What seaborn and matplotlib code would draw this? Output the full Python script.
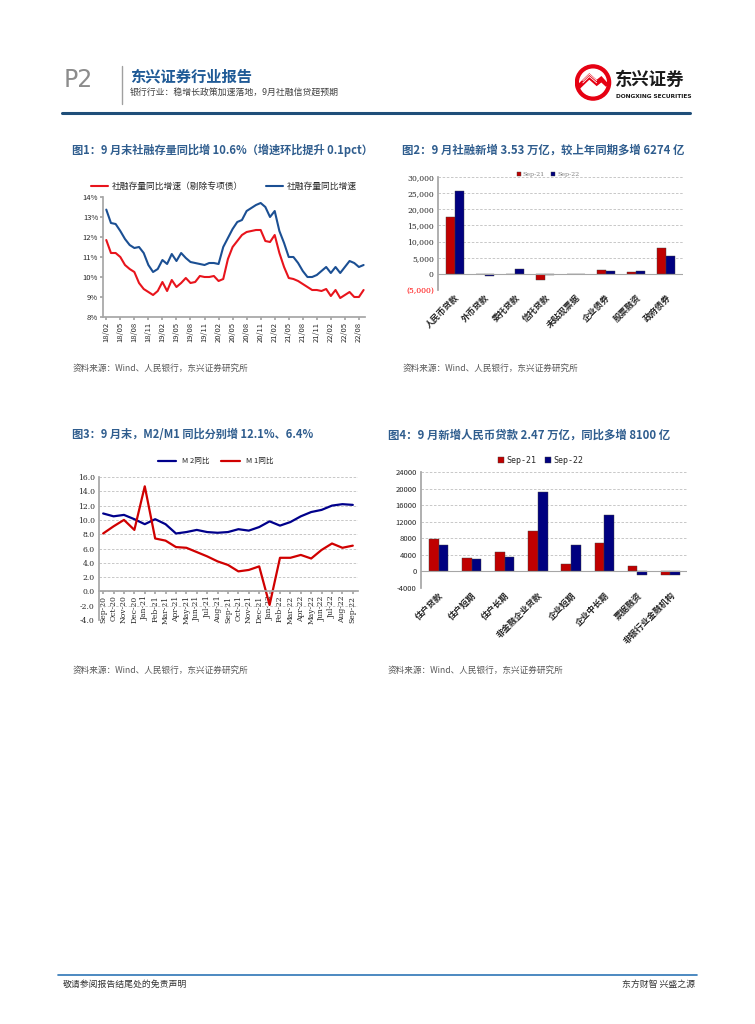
import numpy as np
import pandas as pd
import matplotlib
matplotlib.use("Agg")
import matplotlib.pyplot as plt
import seaborn as sns
from matplotlib.patches import Circle, Polygon
from matplotlib.lines import Line2D

sns.set_theme(style="white")
plt.rcParams['font.family'] = ['Noto Sans CJK SC', 'DejaVu Sans']
plt.rcParams['axes.unicode_minus'] = False

# ---------- data ----------
# chart 1: monthly 2018/02 - 2022/09
tsf_months = pd.period_range("2018-02", "2022-09", freq="M")
tsf_total = [13.37, 12.70, 12.65, 12.30, 11.90, 11.60, 11.45, 11.50, 11.20, 10.60, 10.25,
             10.40, 10.85, 10.65, 11.15, 10.80, 11.20, 10.95, 10.75, 10.70, 10.65, 10.60, 10.70,
             10.70, 10.65, 11.50, 11.95, 12.40, 12.75, 12.85, 13.30, 13.45, 13.60, 13.70, 13.50,
             13.00, 13.30, 12.30, 11.70, 11.00, 11.00, 10.70, 10.30, 10.00, 10.00, 10.10, 10.30,
             10.50, 10.20, 10.50, 10.20, 10.50, 10.80, 10.70, 10.50, 10.60]
tsf_ex_special = [11.85, 11.20, 11.20, 11.00, 10.60, 10.40, 10.25, 9.70, 9.40, 9.25, 9.10,
                  9.30, 9.75, 9.30, 9.85, 9.50, 9.70, 9.95, 9.70, 9.75, 10.05, 10.00, 10.00,
                  10.05, 9.80, 9.90, 10.90, 11.50, 11.80, 12.10, 12.25, 12.30, 12.35, 12.35, 11.80,
                  11.75, 12.10, 11.20, 10.50, 9.95, 9.90, 9.80, 9.65, 9.50, 9.35, 9.35, 9.30,
                  9.40, 9.05, 9.35, 8.95, 9.10, 9.25, 9.00, 9.00, 9.35]

# chart 2: new TSF components (100m yuan)
tsf_items = ["人民币贷款", "外币贷款", "委托贷款", "信托贷款", "未贴现票据", "企业债券", "股票融资", "政府债券"]
tsf_sep21 = [17600, -110, -160, -2000, -100, 1100, 700, 8000]
tsf_sep22 = [25600, -700, 1600, -350, -130, 750, 1000, 5500]

# chart 3: M2 / M1 yoy
m_months = ["Sep-20", "Oct-20", "Nov-20", "Dec-20", "Jan-21", "Feb-21", "Mar-21", "Apr-21",
            "May-21", "Jun-21", "Jul-21", "Aug-21", "Sep-21", "Oct-21", "Nov-21", "Dec-21",
            "Jan-22", "Feb-22", "Mar-22", "Apr-22", "May-22", "Jun-22", "Jul-22", "Aug-22", "Sep-22"]
m2_yoy = [10.9, 10.5, 10.7, 10.1, 9.4, 10.1, 9.4, 8.1, 8.3, 8.6, 8.3, 8.2, 8.3,
          8.7, 8.5, 9.0, 9.8, 9.2, 9.7, 10.5, 11.1, 11.4, 12.0, 12.2, 12.1]
m1_yoy = [8.1, 9.1, 10.0, 8.6, 14.7, 7.4, 7.1, 6.2, 6.1, 5.5, 4.9, 4.2, 3.7,
          2.8, 3.0, 3.5, -1.9, 4.7, 4.7, 5.1, 4.6, 5.8, 6.7, 6.1, 6.4]

# chart 4: new RMB loans (100m yuan)
loan_items = ["住户贷款", "住户短期", "住户长期", "非金融企业贷款", "企业短期", "企业中长期", "票据融资", "非银行业金融机构"]
loan_sep21 = [7900, 3200, 4700, 9800, 1800, 6900, 1400, -900]
loan_sep22 = [6500, 3000, 3500, 19200, 6500, 13600, -800, -900]

# ---------- page ----------
W, H = 755, 1024
fig = plt.figure(figsize=(W / 100, H / 100), dpi=100)
TITLE_C = "#2F5D8E"


def box(x0, y0, x1, y1):
    return [x0 / W, 1 - y1 / H, (x1 - x0) / W, (y1 - y0) / H]


def ftext(x, y, s, **kw):
    fig.text(x / W, 1 - y / H, s, **kw)


# header
ftext(64, 80, "P2", fontsize=17, color="#8C8C8C", va="center", family="DejaVu Sans")
fig.add_artist(Line2D([122 / W, 122 / W], [1 - 66 / H, 1 - 104 / H], color="#A0A0A0", lw=1))
ftext(130, 77, "东兴证券行业报告", fontsize=11, color="#1F5A96", weight="bold", va="center")
ftext(130, 92, "银行行业：稳增长政策加速落地，9月社融信贷超预期", fontsize=6.4, color="#404040", va="center")
fig.add_artist(Line2D([62 / W, 690 / W], [1 - 113 / H, 1 - 113 / H], color="#1F4E79", lw=2.2))

# logo
lax = fig.add_axes(box(574, 64, 612, 101))
lax.set_xlim(-1, 1)
lax.set_ylim(-1, 1)
lax.set_aspect("equal")
lax.axis("off")
lax.add_patch(Circle((0, 0), 0.95, color="#E60012"))
lax.add_patch(Circle((0, 0), 0.72, color="white"))
lax.add_patch(Polygon([[-0.72, -0.05], [-0.2, 0.45], [0.2, 0.1], [0.45, 0.3], [0.72, 0.0],
                       [0.72, -0.2], [0.45, 0.05], [0.2, -0.15], [-0.2, 0.2], [-0.72, -0.3]],
                      color="#E60012"))
for dy in (0.0, 0.12):
    lax.plot([-0.55, -0.2, 0.2], [-0.02 + dy, 0.32 + dy, -0.02 + dy], color="white", lw=0.6)
ftext(615, 80, "东兴证券", fontsize=12.5, color="#1A1A1A", weight="bold", va="center")
ftext(616, 96, "DONGXING SECURITIES", fontsize=4.2, color="#1A1A1A", weight="bold", va="center",
      family="DejaVu Sans")

# footer
fig.add_artist(Line2D([58 / W, 697 / W], [1 - 975 / H, 1 - 975 / H], color="#2E75B6", lw=1.2))
ftext(63, 984, "敬请参阅报告结尾处的免责声明", fontsize=6.4, color="#333333", va="center")
ftext(695, 984, "东方财智 兴盛之源", fontsize=6.4, color="#333333", va="center", ha="right")

SRC = "资料来源：Wind、人民银行，东兴证券研究所"
ftext(72, 150, "图1：9 月末社融存量同比增 10.6%（增速环比提升 0.1pct）", fontsize=8.05, color=TITLE_C,
      weight="bold", va="center")
ftext(402, 150, "图2：9 月社融新增 3.53 万亿，较上年同期多增 6274 亿", fontsize=8.2, color=TITLE_C,
      weight="bold", va="center")
ftext(72, 435, "图3：9 月末，M2/M1 同比分别增 12.1%、6.4%", fontsize=8.05, color=TITLE_C,
      weight="bold", va="center")
ftext(388, 435, "图4：9 月新增人民币贷款 2.47 万亿，同比多增 8100 亿", fontsize=8.2, color=TITLE_C,
      weight="bold", va="center")
for x, y in [(73, 368), (403, 368), (73, 670), (388, 670)]:
    ftext(x, y, SRC, fontsize=6.2, color="#595959", va="center", style="italic")

# ---------- chart 1 ----------
ax1 = fig.add_axes(box(103, 197, 365, 317))
df1 = pd.DataFrame({"idx": np.arange(len(tsf_ex_special)),
                    "社融存量同比增速（剔除专项债）": tsf_ex_special,
                    "社融存量同比增速": tsf_total})
df1 = df1.melt("idx", var_name="series", value_name="yoy")
sns.lineplot(data=df1, x="idx", y="yoy", hue="series", ax=ax1, lw=1.5,
             palette={"社融存量同比增速（剔除专项债）": "#E8141C", "社融存量同比增速": "#1B4F93"})
ax1.set_xlim(-0.7, len(tsf_ex_special) - 0.7)
ax1.set_ylim(8, 14)
ax1.set_yticks(range(8, 15))
ax1.set_yticklabels([f"{v}%" for v in range(8, 15)])
tick_idx = list(range(0, len(tsf_ex_special), 3))
ax1.set_xticks(tick_idx)
ax1.set_xticklabels([tsf_months[i].strftime("%y/%m") for i in tick_idx], rotation=90)
ax1.set_xlabel("")
ax1.set_ylabel("")
for s in ["top", "right"]:
    ax1.spines[s].set_visible(False)
for s in ["left", "bottom"]:
    ax1.spines[s].set_color("#A6A6A6")
ax1.tick_params(axis="both", labelsize=5.5, length=2, color="#A6A6A6", pad=1.5, direction="out",
                left=True, bottom=True)
ax1.legend(loc="lower center", bbox_to_anchor=(0.46, 1.02), ncol=2, frameon=False, fontsize=6.3,
           handlelength=2.0, handletextpad=0.4, columnspacing=2.6, borderaxespad=0)

# ---------- chart 2 ----------
ax2 = fig.add_axes(box(438, 177, 683, 290))
df2 = pd.DataFrame({"item": tsf_items * 2,
                    "period": ["Sep-21"] * len(tsf_items) + ["Sep-22"] * len(tsf_items),
                    "value": tsf_sep21 + tsf_sep22})
sns.barplot(data=df2, x="item", y="value", hue="period", ax=ax2, width=0.6, saturation=1,
            palette={"Sep-21": "#C00000", "Sep-22": "#000080"}, edgecolor="#404040", linewidth=0.3)
ax2.set_ylim(-5000, 30000)
ax2.set_xlim(-0.55, len(tsf_items) - 0.45)
ax2.set_yticks(range(-5000, 30001, 5000))
ax2.set_yticklabels([f"({-v:,})" if v < 0 else f"{v:,}" for v in range(-5000, 30001, 5000)],
                    family="DejaVu Serif")
for lab in ax2.get_yticklabels():
    if lab.get_text().startswith("("):
        lab.set_color("red")
ax2.yaxis.grid(True, ls=(0, (3, 2)), color="#BFBFBF", lw=0.6)
ax2.axhline(0, color="#A6A6A6", lw=0.8)
ax2.set_axisbelow(True)
for s in ["top", "right", "bottom"]:
    ax2.spines[s].set_visible(False)
ax2.spines["left"].set_color("#A6A6A6")
ax2.tick_params(axis="y", labelsize=5.5, length=0, pad=3)
ax2.tick_params(axis="x", labelsize=6.2, length=0, pad=2)
plt.setp(ax2.get_xticklabels(), rotation=45, ha="right", rotation_mode="anchor", weight="bold")
ax2.set_xlabel("")
ax2.set_ylabel("")
leg2 = ax2.legend(loc="lower center", bbox_to_anchor=(0.45, 0.98), ncol=2, frameon=False,
                  handlelength=0.6, handleheight=0.6, handletextpad=0.3, columnspacing=1,
                  prop={"family": "DejaVu Serif", "size": 4.5}, borderaxespad=0)
for t in leg2.get_texts():
    t.set_color("#7F7F7F")

# ---------- chart 3 ----------
ax3 = fig.add_axes(box(99, 477, 358, 620))
df3 = pd.DataFrame({"month": m_months * 2,
                    "series": ["M 2同比"] * len(m_months) + ["M 1同比"] * len(m_months),
                    "yoy": m2_yoy + m1_yoy})
sns.lineplot(data=df3, x="month", y="yoy", hue="series", ax=ax3, lw=1.6, sort=False,
             palette={"M 2同比": "#00008B", "M 1同比": "#D00000"})
ax3.set_ylim(-4, 16)
ax3.set_xlim(-0.4, len(m_months) - 0.5)
ax3.set_yticks(np.arange(-4, 16.1, 2))
ax3.set_yticklabels([f"{v:.1f}" for v in np.arange(-4, 16.1, 2)], family="DejaVu Serif")
ax3.yaxis.grid(True, ls=(0, (3, 2)), color="#BFBFBF", lw=0.6)
ax3.spines["bottom"].set_position(("data", 0))
for s in ["top", "right"]:
    ax3.spines[s].set_visible(False)
for s in ["left", "bottom"]:
    ax3.spines[s].set_color("#A6A6A6")
ax3.tick_params(axis="y", labelsize=5.5, length=0, pad=3)
ax3.tick_params(axis="x", labelsize=5.5, length=2, color="#A6A6A6", pad=1, bottom=True)
plt.setp(ax3.get_xticklabels(), rotation=90, family="DejaVu Serif")
ax3.set_xlabel("")
ax3.set_ylabel("")
ax3.legend(loc="lower center", bbox_to_anchor=(0.45, 1.06), ncol=2, frameon=False, fontsize=5.5,
           handlelength=2.4, columnspacing=1.5, borderaxespad=0)

# ---------- chart 4 ----------
ax4 = fig.add_axes(box(421, 472, 687, 588))
df4 = pd.DataFrame({"item": loan_items * 2,
                    "period": ["Sep-21"] * len(loan_items) + ["Sep-22"] * len(loan_items),
                    "value": loan_sep21 + loan_sep22})
sns.barplot(data=df4, x="item", y="value", hue="period", ax=ax4, width=0.58, saturation=1,
            palette={"Sep-21": "#C00000", "Sep-22": "#000080"}, edgecolor="#404040", linewidth=0.3)
ax4.set_ylim(-4000, 24000)
ax4.set_xlim(-0.53, len(loan_items) - 0.5)
ax4.set_yticks(range(-4000, 24001, 4000))
ax4.yaxis.grid(True, ls=(0, (3, 2)), color="#BFBFBF", lw=0.6)
ax4.axhline(0, color="#A6A6A6", lw=0.8)
ax4.set_axisbelow(True)
for s in ["top", "right", "bottom"]:
    ax4.spines[s].set_visible(False)
ax4.spines["left"].set_color("#A6A6A6")
ax4.tick_params(axis="y", labelsize=5.5, length=0, pad=3)
ax4.tick_params(axis="x", labelsize=6.2, length=0, pad=2)
plt.setp(ax4.get_xticklabels(), rotation=45, ha="right", rotation_mode="anchor", weight="bold")
ax4.set_xlabel("")
ax4.set_ylabel("")
ax4.legend(loc="lower center", bbox_to_anchor=(0.45, 1.03), ncol=2, frameon=False,
           handlelength=0.7, handleheight=0.7, handletextpad=0.3, columnspacing=1,
           prop={"family": "DejaVu Sans Mono", "size": 6}, borderaxespad=0)

fig.savefig("out.png", dpi=100)
